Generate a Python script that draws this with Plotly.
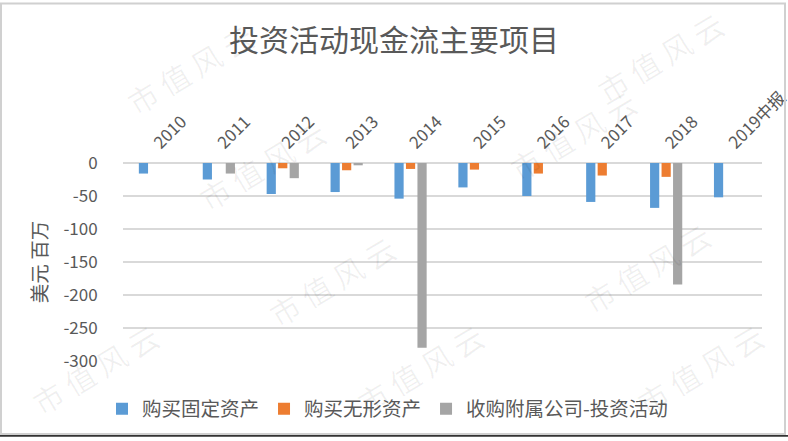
import plotly.graph_objects as go

categories = ["2010", "2011", "2012", "2013", "2014", "2015", "2016", "2017", "2018", "2019中报"]
fixed_assets = [-16, -25, -47, -44, -54, -37, -50, -59, -68, -52]
intangible = [None, None, -8, -11, -9, -10, -16, -19, -21, None]
acquisitions = [None, -16, -23, -3.5, -280, None, None, None, -184, None]

series_names = ["购买固定资产", "购买无形资产", "收购附属公司-投资活动"]
colors = ["#5B9BD5", "#ED7D31", "#A5A5A5"]
yticks = [0, -50, -100, -150, -200, -250, -300]

font_fam = "Noto Sans CJK SC, Open Sans, sans-serif"
grey_txt = "#595959"

# plot area in pixels (for converting decorative positions)
L, R, T, B = 123, 762, 163, 364
PW, PH = R - L, B - T


def px(x):
    return (x - L) / PW


def py(y):
    return (B - y) / PH


fig = go.Figure()
for name, vals, c in zip(series_names, [fixed_assets, intangible, acquisitions], colors):
    fig.add_trace(go.Bar(x=categories, y=vals, name=name, marker=dict(color=c, line=dict(width=0))))

# faint watermarks (kept fully inside the frame)
wm = [(190, 68), (262, 165), (332, 283), (573, 135), (647, 270), (700, 372), (95, 372), (420, 372), (660, 55)]
for x, y in wm:
    fig.add_annotation(text="市 值 风 云", x=px(x), y=py(y), xref="paper", yref="paper", showarrow=False,
                       xanchor="center", yanchor="middle", textangle=-31,
                       font=dict(size=30, color="rgba(0,0,0,0.06)", family="Noto Sans CJK SC"))

fig.update_layout(
    width=788, height=441,
    margin=dict(l=L, r=788 - R, t=T, b=441 - B),
    paper_bgcolor="white", plot_bgcolor="white",
    barmode="group", bargap=0.46, bargroupgap=0.2,
    title=dict(text="投资活动现金流主要项目", x=0.5, xanchor="center", y=1 - 40 / 441, yanchor="middle",
               font=dict(size=30, color=grey_txt, family=font_fam)),
    font=dict(family=font_fam, color=grey_txt, size=14),
    showlegend=True,
    legend=dict(orientation="h", x=px(102), xanchor="left", y=py(393), yanchor="top",
                font=dict(size=19.5, color=grey_txt), itemwidth=30, traceorder="normal",
                bgcolor="rgba(0,0,0,0)"),
    xaxis=dict(side="top", tickangle=-45, showgrid=False, showline=False, zeroline=False,
               ticks="outside", ticklen=3, tickcolor="rgba(0,0,0,0)", automargin=False,
               tickfont=dict(size=17, color=grey_txt)),
    yaxis=dict(range=[-300, 0], tickvals=yticks, ticktext=[str(v) for v in yticks], automargin=False,
               showgrid=True, gridcolor="#D9D9D9", gridwidth=1.5, zeroline=True, zerolinecolor="#D9D9D9",
               zerolinewidth=1.5, ticks="outside", ticklen=21, tickcolor="rgba(0,0,0,0)",
               tickfont=dict(size=17, color=grey_txt),
               title=dict(text="美元 百万", font=dict(size=19.5, color=grey_txt), standoff=10)),
)
fig.add_shape(type="rect", xref="paper", yref="paper", x0=px(1), x1=px(785), y0=py(438), y1=py(1),
              line=dict(color="#D0D0D0", width=2), fillcolor="rgba(0,0,0,0)")
fig.add_shape(type="rect", xref="paper", yref="paper", x0=px(0), x1=px(788), y0=py(441), y1=py(439),
              line=dict(width=0), fillcolor="#333333")
fig.write_html("out.html")
